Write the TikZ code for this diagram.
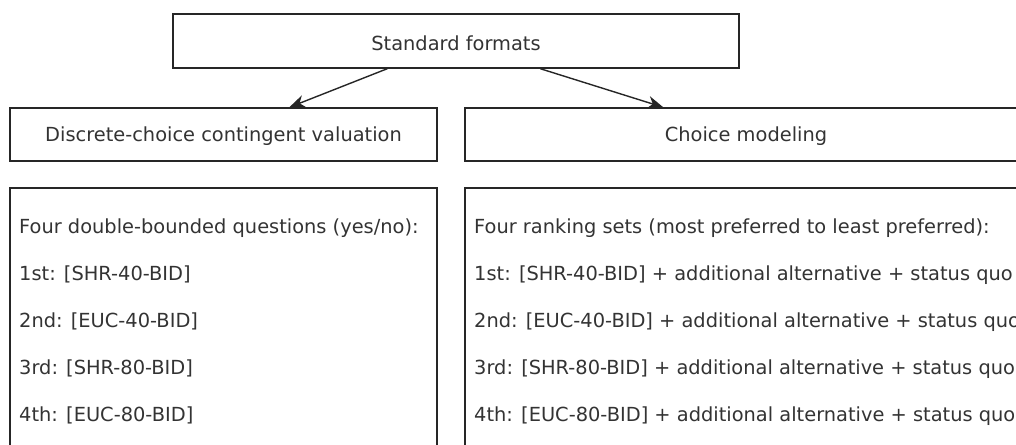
\documentclass[tikz,border=0pt]{standalone}
\usepackage{fontspec}
\setmainfont{DejaVu Sans}
\usetikzlibrary{arrows.meta,calc}
\begin{document}
\begin{tikzpicture}[x=1pt,y=-1pt,
  box/.style={draw=black!85, line width=1.4pt, inner sep=0pt},
  lbl/.style={anchor=base, font=\fontsize{19.4}{23}\selectfont, text=black!80, inner sep=0pt},
  txtline/.style={anchor=base west, font=\fontsize{19.4}{23}\selectfont, text=black!80, inner sep=0pt},
  arr/.style={draw=black!85, line width=1.4pt, -{Stealth[length=16pt,width=13pt,inset=5pt]}}]
\useasboundingbox (0,0) rectangle (1016,444);
\clip (0,0) rectangle (1016,444);
% boxes
\node[box, minimum width=566pt, minimum height=54pt] (top) at (456,41) {};
\node[box, minimum width=427pt, minimum height=53pt] (dcv) at (223.5,134.5) {};
\node[box, minimum width=562pt, minimum height=53pt] (cm) at (746,134.5) {};
\node[box, minimum width=427pt, minimum height=290pt] (bl) at (223.5,333) {};
\node[box, minimum width=562pt, minimum height=290pt] (br) at (746,333) {};
% labels
\node[lbl] (ttop) at (456,50) {Standard formats};
\node[lbl] (tdcv) at (223.5,141) {Discrete-choice contingent valuation};
\node[lbl] (tcm) at (746,141) {Choice modeling};
% left lines
\node[txtline] (l0) at (19,233) {Four double-bounded questions (yes/no):};
\node[txtline] (l1) at (19,280) {1st: [SHR-40-BID]};
\node[txtline] (l2) at (19,327) {2nd: [EUC-40-BID]};
\node[txtline] (l3) at (19,374) {3rd: [SHR-80-BID]};
\node[txtline] (l4) at (19,421.5) {4th: [EUC-80-BID]};
% right lines
\node[txtline] (r0) at (474,233) {Four ranking sets (most preferred to least preferred):};
\node[txtline] (r1) at (474,280) {1st: [SHR-40-BID] + additional alternative + status quo};
\node[txtline] (r2) at (474,327) {2nd: [EUC-40-BID] + additional alternative + status quo};
\node[txtline] (r3) at (474,374) {3rd: [SHR-80-BID] + additional alternative + status quo};
\node[txtline] (r4) at (474,421.5) {4th: [EUC-80-BID] + additional alternative + status quo};
% arrows
\draw[arr] ($(top.south west)+(215,0)$) -- ($(dcv.north west)+(280,0)$);
\draw[arr] ($(top.south west)+(368,0)$) -- ($(cm.north west)+(199,0)$);
\end{tikzpicture}
\end{document}
